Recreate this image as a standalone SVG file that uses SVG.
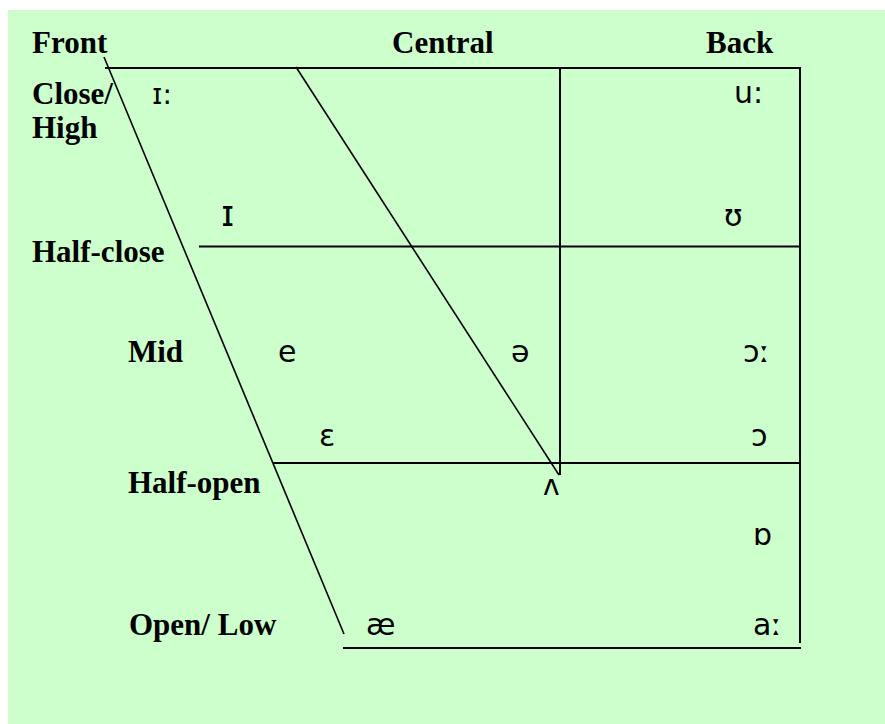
<svg xmlns="http://www.w3.org/2000/svg" width="885" height="724" viewBox="0 0 885 724">
<style>
.bg{fill:#CCFFCC}
.ln{stroke:#000;stroke-width:2;fill:none}
.dg{stroke:#000;stroke-width:1.6;fill:none}
.lab{font-family:"Liberation Serif","Times New Roman",serif;font-weight:bold;font-size:31px;fill:#000}
.ipa{font-family:"DejaVu Sans","Noto Sans",sans-serif;font-size:30px;fill:#000}
</style>
<rect class="bg" x="8" y="10" width="877" height="714"/>
<g id="connectors">
<line class="ln" x1="105" y1="68" x2="800" y2="68"/>
<line class="ln" x1="800" y1="67" x2="800" y2="643"/>
<line class="ln" x1="560" y1="68" x2="560" y2="475"/>
<line class="ln" x1="199" y1="246.5" x2="800" y2="246.5"/>
<line class="ln" x1="273" y1="463" x2="800" y2="463"/>
<line class="ln" x1="343" y1="648" x2="801" y2="648"/>
<line class="dg" x1="104" y1="57" x2="344" y2="634"/>
<line class="dg" x1="296" y1="67" x2="559" y2="475"/>
</g>
<g id="label-front"><text class="lab" x="32" y="53">Front</text></g>
<g id="label-central"><text class="lab" x="392" y="53">Central</text></g>
<g id="label-back"><text class="lab" x="706" y="53">Back</text></g>
<g id="label-close"><text class="lab" x="32" y="104">Close/</text><text class="lab" x="32" y="138">High</text></g>
<g id="label-halfclose"><text class="lab" x="32" y="262">Half-close</text></g>
<g id="label-mid"><text class="lab" x="128" y="362">Mid</text></g>
<g id="label-halfopen"><text class="lab" x="128" y="493">Half-open</text></g>
<g id="label-open"><text class="lab" x="129" y="635">Open/ Low</text></g>
<g id="v-i-long"><text class="ipa" x="152" y="104" style="font-size:28px">ɪ:</text></g>
<g id="v-u-long"><text class="ipa" x="734" y="103">u:</text></g>
<g id="v-i"><text class="ipa" x="221" y="226" style="font-size:36px">ɪ</text></g>
<g id="v-u"><text class="ipa" x="724" y="226">ʊ</text></g>
<g id="v-e"><text class="ipa" x="278" y="362">e</text></g>
<g id="v-schwa"><text class="ipa" x="511" y="362">ə</text></g>
<g id="v-o-long"><text class="ipa" x="743" y="362">ɔː</text></g>
<g id="v-epsilon"><text class="ipa" x="319" y="446">ɛ</text></g>
<g id="v-o"><text class="ipa" x="751" y="446">ɔ</text></g>
<g id="v-wedge"><text class="ipa" x="543" y="495" style="font-size:28px">ʌ</text></g>
<g id="v-o-open"><text class="ipa" x="753" y="545">ɒ</text></g>
<g id="v-ae"><text class="ipa" x="366" y="635">æ</text></g>
<g id="v-a-long"><text class="ipa" x="753" y="635">aː</text></g>
</svg>
